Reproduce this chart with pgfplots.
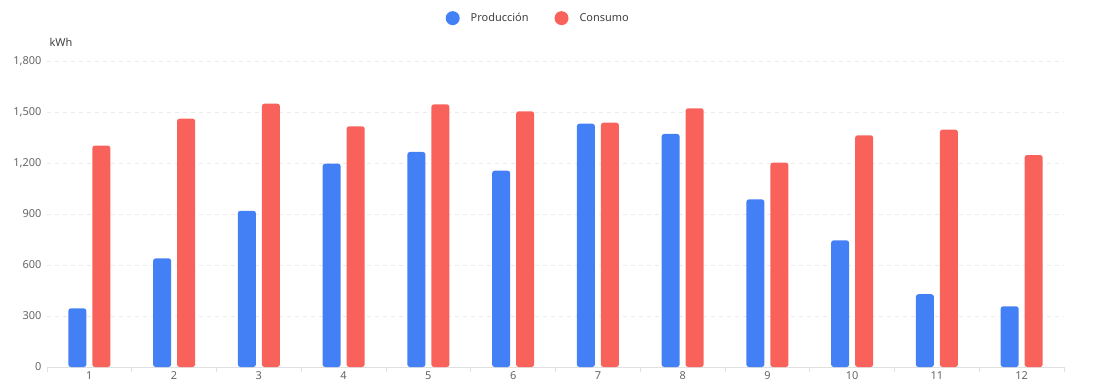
\documentclass[border=0pt]{standalone}
\usepackage{pgfplots}
\pgfplotsset{compat=1.18}
\usepackage{fontspec}
\setmainfont{Noto Sans}
\definecolor{prodblue}{HTML}{4380F6}
\definecolor{consred}{HTML}{F9625B}
\definecolor{gridgray}{HTML}{EBEBEB}
\definecolor{axisgray}{HTML}{E0E0E0}
\definecolor{ticktext}{HTML}{666666}
\begin{document}
\begin{tikzpicture}[x=1bp,y=1bp]
\useasboundingbox (0,0) rectangle (1099,384);
\begin{axis}[
  at={(47bp,17bp)}, anchor=south west,
  scale only axis, width=1017bp, height=306bp,
  ymin=0, ymax=1800,
  xmin=0.5, xmax=12.5,
  ybar=6bp, bar width=18bp,
  xtick={1,...,12},
  minor xtick={0.5,1.5,...,12.5},
  major tick length=0pt,
  minor tick length=5bp,
  tick align=outside,
  minor x tick style={axisgray, line width=0.8bp},
  ytick={0,300,...,1800},
  ytick style={draw=none},
  axis x line*=bottom, axis y line*=left,
  x axis line style={axisgray, line width=0.8bp, -},
  y axis line style={draw=none},
  ymajorgrids, major grid style={gridgray, dashed, line width=0.7bp, dash pattern=on 4bp off 4bp},
  /pgf/number format/assume math mode=true,
  /pgf/number format/1000 sep={,},
  ticklabel style={font=\fontsize{11}{13}\selectfont, text=ticktext},
  yticklabel style={xshift=-2bp},
  xticklabel style={yshift=-1bp},
  legend style={at={(0.483,1.14)}, anchor=center, draw=none, fill=none,
    legend columns=2, font=\fontsize{11}{13}\selectfont, text=black!75,
    /tikz/every odd column/.append style={column sep=9bp},
    /tikz/every even column/.append style={column sep=24bp}},
  legend image code/.code={\fill[#1] (4bp,0) circle (7bp);},
  clip=false,
]
\addplot[fill=prodblue, draw=none, rounded corners=2.5bp] coordinates {
(1,345) (2,639) (3,919) (4,1196) (5,1265) (6,1155) (7,1431) (8,1371) (9,986) (10,745) (11,428) (12,357)};
\addplot[fill=consred, draw=none, rounded corners=2.5bp] coordinates {
(1,1302) (2,1461) (3,1549) (4,1416) (5,1545) (6,1504) (7,1437) (8,1522) (9,1202) (10,1363) (11,1396) (12,1247)};
\legend{Producción, Consumo}
\end{axis}
\node[anchor=west, font=\fontsize{11}{13}\selectfont, text=black!75] at (46,342) {kWh};
\end{tikzpicture}
\end{document}
